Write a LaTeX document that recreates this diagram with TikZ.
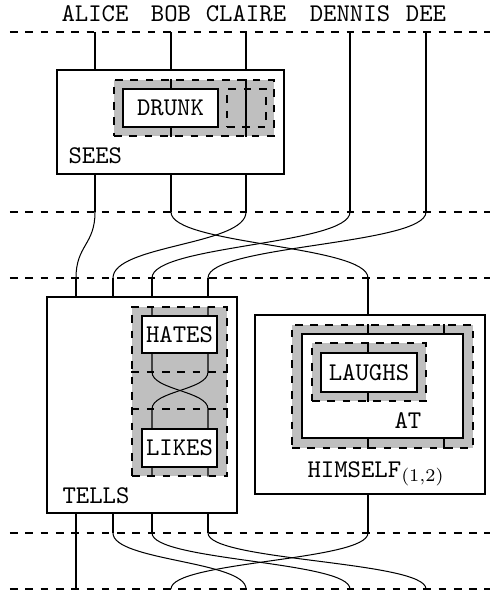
\documentclass[tikz,border=0pt]{standalone}
\usepackage{amsmath}
\usepackage{xcolor}
\usepackage{tikz}
\usetikzlibrary{fit}

\begin{document}
\begin{tikzpicture}[x=0.392pt,y=-0.392pt,font=\ttfamily,
    box/.style={draw,fill=white,inner sep=0pt},
    frame/.style={draw,dashed,fill=gray!50,inner sep=0pt},
    hole/.style={draw,dashed,inner sep=0pt},
    lbl/.style={inner sep=0pt},
    cut/.style={dashed}]
  \useasboundingbox (0,0) rectangle (490,592);
  % slices
  \draw[cut] (10,32) -- (490,32);
  \draw[cut] (10,212) -- (490,212);
  \draw[cut] (10,278) -- (490,278);
  \draw[cut] (10,533) -- (490,533);
  \draw[cut] (10,589) -- (490,589);
  % wire ends
  \coordinate (t1) at (95,32);  \coordinate (t2) at (171,32);  \coordinate (t3) at (246,32);
  \coordinate (t4) at (350,32); \coordinate (t5) at (426,32);
  \coordinate (u1) at (95,212);  \coordinate (u2) at (171,212);  \coordinate (u3) at (246,212);
  \coordinate (u4) at (350,212); \coordinate (u5) at (426,212);
  \coordinate (v1) at (76,278);  \coordinate (v2) at (113,278);  \coordinate (v3) at (152,278);
  \coordinate (v4) at (208,278); \coordinate (v5) at (368,278);
  \coordinate (w1) at (76,533);  \coordinate (w2) at (113,533);  \coordinate (w3) at (152,533);
  \coordinate (w4) at (208,533); \coordinate (w5) at (368,533);
  \coordinate (z1) at (76,589);  \coordinate (z2) at (171,589);  \coordinate (z3) at (246,589);
  \coordinate (z4) at (350,589); \coordinate (z5) at (426,589);
  \node[lbl,anchor=base] (alice) at (95,21) {ALICE};
  \node[lbl,anchor=base] (bob) at (171,21) {BOB};
  \node[lbl,anchor=base] (claire) at (246,21) {CLAIRE};
  \node[lbl,anchor=base] (dennis) at (350,21) {DENNIS};
  \node[lbl,anchor=base] (dee) at (426,21) {DEE};
  % SEES
  \node[box,fit={(57,70) (284,174)}] (sees) {};
  \node[lbl,anchor=base west] (seeslbl) at (68,163) {SEES};
  \node[frame,fit={(114,80) (274,136)}] (dframe) {};
  \draw (t2 |- dframe.north) -- (t2 |- dframe.south);
  \draw (t3 |- dframe.north) -- (t3 |- dframe.south);
  \node[box,fit={(123,89) (218,127)}] (drunk) {};
  \node (drunklbl) at (drunk.center) {DRUNK};
  \node[hole,fit={(227,89) (266,127)}] (dhole) {};
  \draw (t1) -- (t1 |- sees.north);
  \draw (t2) -- (t2 |- sees.north);
  \draw (t3) -- (t3 |- sees.north);
  \draw (sees.south -| u1) -- (u1);
  \draw (sees.south -| u2) -- (u2);
  \draw (sees.south -| u3) -- (u3);
  \draw (t4) -- (u4);
  \draw (t5) -- (u5);
  % swaps
  \draw (u1) .. controls +(0,33) and +(0,-33) .. (v1);
  \draw (u2) .. controls +(0,33) and +(0,-33) .. (v5);
  \draw (u3) .. controls +(0,33) and +(0,-33) .. (v2);
  \draw (u4) .. controls +(0,33) and +(0,-33) .. (v3);
  \draw (u5) .. controls +(0,33) and +(0,-33) .. (v4);
  % TELLS
  \node[box,fit={(47,297) (237,513)}] (tells) {};
  \node[lbl,anchor=base west] (tellslbl) at (62,503) {TELLS};
  \node[frame,fit={(132,307) (227,476)}] (tframe) {};
  \coordinate (k1) at (152,372); \coordinate (k2) at (208,372);
  \coordinate (k3) at (152,409); \coordinate (k4) at (208,409);
  \draw[dashed] (tframe.west |- k1) -- (tframe.east |- k1);
  \draw[dashed] (tframe.west |- k3) -- (tframe.east |- k3);
  \draw (v3 |- tframe.north) -- (k1) .. controls +(0,18) and +(0,-18) .. (k4) -- (v4 |- tframe.south);
  \draw (v4 |- tframe.north) -- (k2) .. controls +(0,18) and +(0,-18) .. (k3) -- (v3 |- tframe.south);
  \node[box,fit={(142,316) (217,353)}] (hates) {};
  \node (hateslbl) at (hates.center) {HATES};
  \node[box,fit={(142,429) (217,467)}] (likes) {};
  \node (likeslbl) at (likes.center) {LIKES};
  \foreach \i in {1,2,3,4} {
    \draw (v\i) -- (v\i |- tells.north);
    \draw (tells.south -| w\i) -- (w\i);
  }
  % HIMSELF
  \node[box,fit={(255,315) (485,494)}] (himself) {};
  \node[lbl,anchor=base west] (himselflbl) at (307,477) {HIMSELF$_{(1,2)}$};
  \coordinate (r) at (444,325);
  \node[frame,fit={(292,325) (473,448)}] (aframe) {};
  \draw (v5 |- aframe.north) -- (v5 |- aframe.south);
  \draw (r |- aframe.north) -- (r |- aframe.south);
  \node[box,fit={(302,334) (463,438)}] (at) {};
  \node[lbl,anchor=base west] (atlbl) at (394,428) {AT};
  \node[frame,fit={(312,343) (426,401)}] (lframe) {};
  \draw (v5 |- lframe.north) -- (v5 |- lframe.south);
  \node[box,fit={(321,353) (417,392)}] (laughs) {};
  \node (laughslbl) at (laughs.center) {LAUGHS};
  \draw (v5) -- (v5 |- himself.north);
  \draw (himself.south -| w5) -- (w5);
  % swaps
  \draw (w1) -- (z1);
  \draw (w2) .. controls +(0,28) and +(0,-28) .. (z3);
  \draw (w3) .. controls +(0,28) and +(0,-28) .. (z4);
  \draw (w4) .. controls +(0,28) and +(0,-28) .. (z5);
  \draw (w5) .. controls +(0,28) and +(0,-28) .. (z2);
\end{tikzpicture}
\end{document}
